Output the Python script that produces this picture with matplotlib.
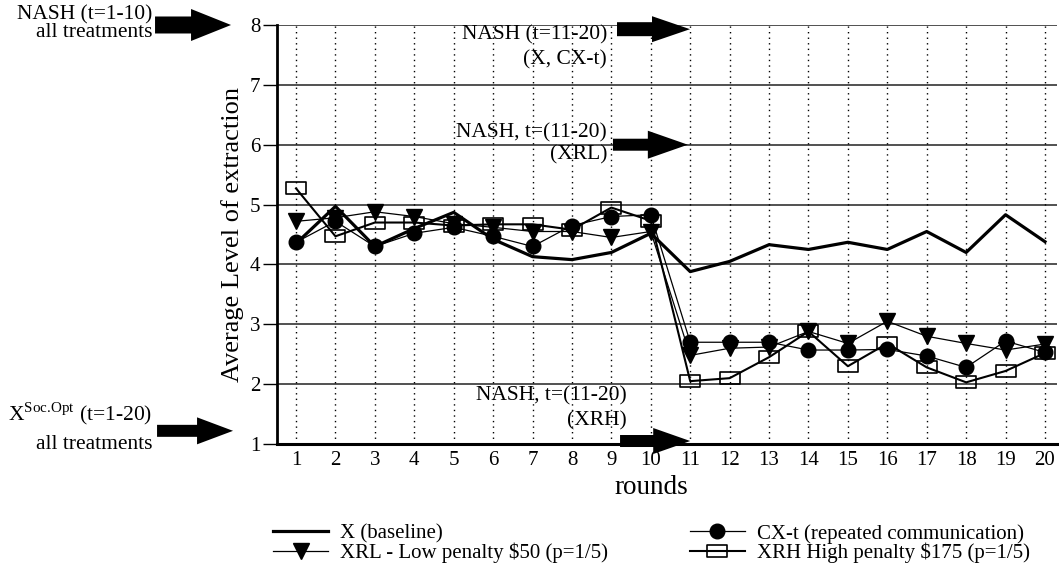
import numpy as np
import matplotlib.pyplot as plt
from matplotlib.path import Path

plt.rcParams['font.family'] = ['Liberation Serif', 'DejaVu Serif']
plt.rcParams['mathtext.fontset'] = 'custom'
plt.rcParams['mathtext.rm'] = 'Liberation Serif'

rounds = np.arange(1, 21)

# values
x_baseline = [4.35, 4.97, 4.30, 4.60, 4.87, 4.42, 4.13, 4.08, 4.20, 4.52,
              3.88, 4.05, 4.33, 4.25, 4.37, 4.25, 4.55, 4.20, 4.83, 4.38]
cx_t = [4.37, 4.72, 4.30, 4.52, 4.62, 4.47, 4.30, 4.65, 4.80, 4.83,
        2.70, 2.70, 2.70, 2.57, 2.57, 2.58, 2.47, 2.28, 2.72, 2.53]
xrl = [4.72, 4.78, 4.88, 4.80, 4.68, 4.62, 4.55, 4.55, 4.45, 4.55,
       2.48, 2.60, 2.62, 2.88, 2.68, 3.05, 2.80, 2.68, 2.57, 2.67]
xrh = [5.27, 4.47, 4.70, 4.70, 4.65, 4.67, 4.67, 4.58, 4.95, 4.73,
       2.05, 2.10, 2.45, 2.88, 2.30, 2.68, 2.28, 2.03, 2.22, 2.52]

labels = ['X (baseline)', 'CX-t (repeated communication)',
          'XRL - Low penalty $50 (p=1/5)', 'XRH High penalty $175 (p=1/5)']

fig = plt.figure(figsize=(10.59, 5.68), dpi=100)
ax = fig.add_axes([0.2616, 0.2183, 0.7365, 0.7377])

# wide open rectangle marker
rect = Path([(-1.5, -1), (1.5, -1), (1.5, 1), (-1.5, 1), (-1.5, -1)],
            [Path.MOVETO, Path.LINETO, Path.LINETO, Path.LINETO, Path.CLOSEPOLY])

l_x, = ax.plot(rounds, x_baseline, color='black', lw=2.3, label=labels[0], zorder=3)
l_cx, = ax.plot(rounds, cx_t, color='black', lw=0.9, marker='o', ms=10.5,
                label=labels[1], zorder=4)
l_rl, = ax.plot(rounds, xrl, color='black', lw=0.9, marker='v', ms=11.5,
                label=labels[2], zorder=4)
l_rh, = ax.plot(rounds, xrh, color='black', lw=1.5, marker=rect, ms=14,
                mfc='none', mec='black', mew=1.2, label=labels[3], zorder=5)

ax.set_xlim(0.518, 20.305)
ax.set_ylim(1, 8)
ax.set_xticks(rounds)
ax.set_yticks(range(1, 9))
ax.tick_params(axis='x', length=0, labelsize=15, pad=5)
ax.tick_params(axis='y', length=10, width=1, labelsize=15, pad=2)

for yv in range(2, 9):
    ax.axhline(yv, color='#333333', lw=1.2, zorder=1)
for xv in rounds:
    ax.axvline(xv, color='black', lw=1, ls=(0, (1, 3)), zorder=1)

for s in ['top', 'right']:
    ax.spines[s].set_visible(False)
ax.spines['left'].set_linewidth(2)
ax.spines['bottom'].set_linewidth(2.2)

ax.set_xlabel('rounds', fontsize=19.5)
ax.xaxis.set_label_coords(0.4795, -0.075)
ax.set_ylabel('Average Level of extraction', fontsize=19)

# annotation texts
txt = dict(fontsize=15.5, ha='right', va='center', annotation_clip=False)
ax.annotate('NASH (t=1-10)', xy=(-2.653, 8.167), **txt)
ax.annotate('all treatments', xy=(-2.653, 7.867), **txt)
ax.annotate('X$^{\\mathrm{Soc.\\!Opt}}$ (t=1-20)', xy=(-2.653, 1.50), **txt)
ax.annotate('all treatments', xy=(-2.653, 1.0), **txt)
ax.annotate('NASH (t=11-20)', xy=(8.89, 7.833), **txt)
ax.annotate('(X, CX-t)', xy=(8.89, 7.417), **txt)
ax.annotate('NASH, t=(11-20)', xy=(8.89, 6.2), **txt)
ax.annotate('(XRL)', xy=(8.89, 5.833), **txt)
ax.annotate('NASH, t=(11-20)', xy=(9.40, 1.8), **txt)
ax.annotate('(XRH)', xy=(9.40, 1.383), **txt)


def block_arrow(x0, x1, y, head_len, head_w, tail_w):
    # sizes given in pixels, converted to points
    k = 0.72
    style = 'simple,head_length=%g,head_width=%g,tail_width=%g' % (
        head_len * k, head_w * k, tail_w * k)
    ax.annotate('', xy=(x1, y), xytext=(x0, y), annotation_clip=False,
                arrowprops=dict(arrowstyle=style, color='black', lw=0,
                                mutation_scale=1, shrinkA=0, shrinkB=0))


block_arrow(-2.577, -0.649, 8.0, 40, 32, 17)
block_arrow(-2.526, -0.598, 1.22, 36, 27, 12)
block_arrow(9.143, 10.995, 7.93, 38, 26, 14)
block_arrow(9.04, 10.94, 6.0, 40, 28, 12)
block_arrow(9.22, 11.0, 1.05, 37, 26, 12)

fig.legend(handles=[l_x, l_rl, l_cx, l_rh], ncol=2, frameon=False,
           loc='upper left', bbox_to_anchor=(0.2578, 0.0775), borderpad=0,
           borderaxespad=0, fontsize=15, handlelength=2.65, handletextpad=0.58,
           columnspacing=3.9, labelspacing=-0.06)

fig.savefig('out.png', dpi=100)
